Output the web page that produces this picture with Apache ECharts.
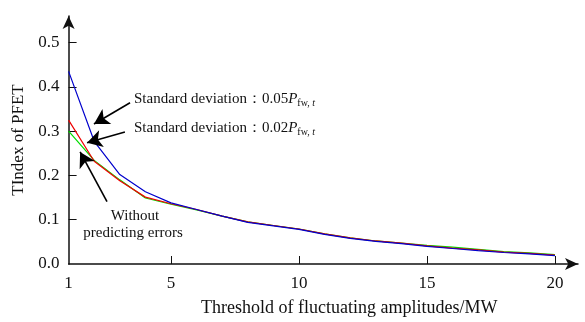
<!DOCTYPE html>
<html><head><meta charset="utf-8">
<script src="https://cdn.jsdelivr.net/npm/echarts@6/dist/echarts.min.js"></script>
<style>html,body{margin:0;padding:0;background:#fff}#c{width:585px;height:322px}</style>
</head><body><div id="c"></div>
<script>
const xValues = [1,2,3,4,5,6,7,8,9,10,11,12,13,14,15,16,17,18,19,20];
const blueSeries = [0.435,0.277,0.202,0.163,0.138,0.123,0.108,0.094,0.086,0.078,0.067,0.058,0.051,0.046,0.040,0.035,0.030,0.026,0.023,0.019];
const redSeries  = [0.325,0.232,0.188,0.151,0.136,0.123,0.108,0.095,0.087,0.079,0.068,0.059,0.052,0.047,0.041,0.036,0.032,0.027,0.024,0.020];
const greenSeries= [0.300,0.234,0.190,0.149,0.135,0.122,0.108,0.095,0.087,0.079,0.068,0.059,0.052,0.047,0.042,0.038,0.033,0.028,0.025,0.021];
const xTickLabels = [1,5,10,15,20];
const xTicks = [5,10,15,20];
const yTickValues = [0,0.1,0.2,0.3,0.4,0.5];
const arrows = [
  [[3.40,0.364],[1.99,0.316]],
  [[3.20,0.298],[1.72,0.274]],
  [[2.50,0.141],[1.45,0.253]]
];

const font = '"Liberation Serif","Times New Roman",serif';
const chart = echarts.init(document.getElementById('c'));
function pairs(v){ return xValues.map((x,i)=>[x,v[i]]); }
const richSub = {
  n:{fontFamily:font,fontSize:15},
  p:{fontFamily:font,fontSize:15,fontStyle:'italic'},
  s:{fontFamily:font,fontSize:10,padding:[7,0,0,0]},
  t:{fontFamily:font,fontSize:10,fontStyle:'italic',padding:[7,0,0,0]}
};

chart.setOption({
  animation:false,
  backgroundColor:'#fff',
  grid:{left:68.6,top:16,right:7,bottom:57.5,containLabel:false},
  xAxis:{type:'value',min:1,max:20.9,
    name:'Threshold of fluctuating amplitudes/MW',nameLocation:'middle',nameGap:35,
    nameTextStyle:{fontFamily:font,fontSize:18,color:'#111',padding:[0,0,0,52]},
    axisLine:{show:true,lineStyle:{color:'#111',width:1.5},symbol:['none','arrow'],symbolSize:[9,13]},
    axisTick:{show:true,inside:true,length:8,customValues:xTicks,lineStyle:{color:'#111'}},
    axisLabel:{customValues:xTickLabels,fontFamily:font,fontSize:17,color:'#111',margin:11},
    splitLine:{show:false}},
  yAxis:{type:'value',min:0,max:0.56,
    name:'TIndex of PFET',nameLocation:'middle',nameGap:42,
    nameTextStyle:{fontFamily:font,fontSize:17,color:'#111'},
    axisLine:{show:true,lineStyle:{color:'#111',width:1.5},symbol:['none','arrow'],symbolSize:[9,13]},
    axisTick:{show:true,inside:true,length:8,customValues:yTickValues.slice(1),lineStyle:{color:'#111'}},
    axisLabel:{customValues:yTickValues,formatter:v=>v.toFixed(1),fontFamily:font,fontSize:17,color:'#111',margin:9},
    splitLine:{show:false}},
  series:[
    {type:'line',data:pairs(greenSeries),symbol:'none',lineStyle:{color:'#00dd00',width:1.2},z:2},
    {type:'line',data:pairs(redSeries),symbol:'none',lineStyle:{color:'#ee0000',width:1.2},z:3},
    {type:'line',data:pairs(blueSeries),symbol:'none',lineStyle:{color:'#0000cc',width:1.2},z:4,
      markLine:{silent:true,symbol:['none','arrow'],symbolSize:[13,15],
        lineStyle:{color:'#000',width:1.6,type:'solid'},label:{show:false},
        data:arrows.map(a=>[{coord:a[0]},{coord:a[1]}])}}
  ],
  graphic:[
    {type:'text',left:134,top:92,style:{fontFamily:font,fontSize:15,fill:'#111',
      text:'{n|Standard deviation：0.05}{p|P}{s|fw, }{t|t}',rich:richSub}},
    {type:'text',left:134,top:121,style:{fontFamily:font,fontSize:15,fill:'#111',
      text:'{n|Standard deviation：0.02}{p|P}{s|fw, }{t|t}',rich:richSub}},
    {type:'text',x:135,y:216,style:{text:'Without',fontFamily:font,fontSize:15,fill:'#111',align:'center',verticalAlign:'middle'}},
    {type:'text',x:133,y:233,style:{text:'predicting errors',fontFamily:font,fontSize:15,fill:'#111',align:'center',verticalAlign:'middle'}}
  ]
});
</script></body></html>
